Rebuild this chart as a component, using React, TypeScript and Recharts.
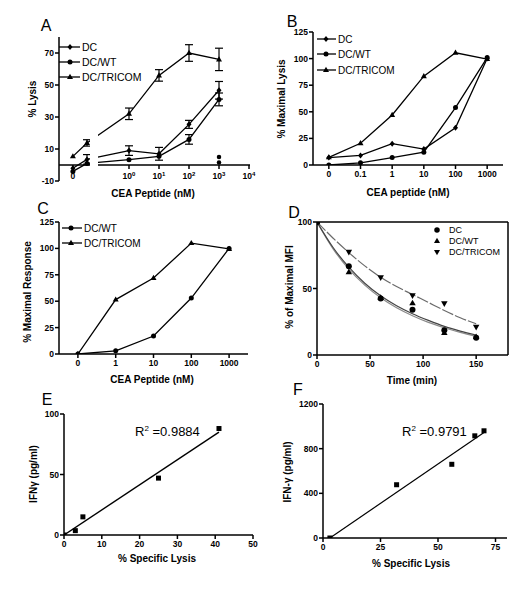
import React from 'react';
import { ComposedChart, Line, Scatter, XAxis, YAxis, ErrorBar, ReferenceLine } from 'recharts';

const FONT = '"Liberation Sans", Arial, Helvetica, sans-serif';

// ---- A: % lysis vs CEA peptide (broken log axis)
const aDoses = ['0', '0.1', '1', '10', '100', '1000'];
const aAxisPos = [-1.87, -1.4, 0, 1, 2, 3];
const aDC = [-2, 3.5, 9, 7, 25.4, 46.7];
const aDCErr = [0, 3, 3, 4, 2.5, 5.5];
const aWT = [-4, 1, 3.3, 5.4, 16, 41];
const aWTErr = [0, 0, 0, 0, 3, 4];
const aTRI = [5.4, 13.8, 32, 56, 70, 66];
const aTRIErr = [0, 2, 3.6, 3.6, 5.2, 7];
const aCtrlPos = [3, 3];
const aCtrl = [5, 1.5];
const aTickPos = [-1.87, 0, 1, 2, 3, 4];
const aTickLabels = ['0', '10^0', '10^1', '10^2', '10^3', '10^4'];

// ---- B: % maximal lysis
const bDoses = ['0', '0.1', '1', '10', '100', '1000'];
const bDC = [7, 9, 20, 15, 35, 100];
const bWT = [0, 2, 7, 12, 54, 101];
const bTRI = [7.2, 20.4, 47, 83.5, 105.5, 99.6];

// ---- C: % maximal response
const cDoses = ['0', '1', '10', '100', '1000'];
const cWT = [0, 3, 17, 53, 100];
const cTRI = [0, 51.5, 72, 105, 99.5];

// ---- D: % of maximal MFI over time
const dTime = [0, 30, 60, 90, 120, 150];
const dDC = [100, 66.8, 42.5, 34, 18.6, 13];
const dWT = [100, 62.3, 43, 39, 16.6, 13.6];
const dTRI = [100, 77.4, 58.3, 44.7, 38.7, 21];
const dFitTime = [0, 15, 30, 45, 60, 75, 90, 105, 120, 135, 150];
const dFitDC = [100, 81, 66, 54, 44.5, 37, 31, 26, 21.5, 18, 15];
const dFitWT = [100, 80, 64.5, 52.5, 43, 35.5, 29.5, 24.5, 20.5, 17, 14];
const dFitTRI = [100, 88, 77, 67, 58.5, 51.5, 45.5, 39.5, 33.5, 28, 23.5];

// ---- E / F: IFN-gamma vs specific lysis
const eLysis = [0, 3, 5, 25, 41];
const eIFN = [0, 3.6, 15, 47, 88];
const eFitLysis = [0, 41];
const eFitIFN = [0, 85];
const fLysis = [3, 32, 56, 66, 70];
const fIFN = [0, 477, 660, 915, 960];
const fFitLysis = [3, 70];
const fFitIFN = [0, 945];

const YW = 40;
const MT = 8;
const MR = 12;
const XH = 26;

const axisLine = { stroke: '#000', strokeWidth: 1.5 };
const tickStyle = { fontFamily: FONT, fontSize: 8.5, fontWeight: 'bold', fill: '#000' };

const Marker = ({ kind, cx, cy, s = 5 }: any) => {
  if (cx == null || cy == null) return null;
  const h = s / 2;
  if (kind === 'diamond')
    return <polygon points={`${cx},${cy - h - 0.5} ${cx + h},${cy} ${cx},${cy + h + 0.5} ${cx - h},${cy}`} fill="#000" />;
  if (kind === 'circle') return <circle cx={cx} cy={cy} r={h} fill="#000" />;
  if (kind === 'tri')
    return <polygon points={`${cx},${cy - h - 0.7} ${cx + h + 0.5},${cy + h * 0.8} ${cx - h - 0.5},${cy + h * 0.8}`} fill="#000" />;
  if (kind === 'triDown')
    return <polygon points={`${cx},${cy + h + 0.7} ${cx + h + 0.5},${cy - h * 0.8} ${cx - h - 0.5},${cy - h * 0.8}`} fill="#000" />;
  return <rect x={cx - h} y={cy - h} width={s} height={s} fill="#000" />;
};

const dotOf = (kind: string, s = 5) => (p: any) => (
  <Marker key={`${kind}-${p.index}`} kind={kind} cx={p.cx} cy={p.cy} s={s} />
);

const Panel = ({ rect, data, children }: any) => (
  <div style={{ position: 'absolute', left: rect.x0 - YW, top: rect.y0 - MT }}>
    <ComposedChart
      width={rect.x1 - rect.x0 + YW + MR}
      height={rect.y1 - rect.y0 + MT + XH}
      data={data}
      margin={{ top: MT, right: MR, bottom: 0, left: 0 }}
    >
      {children}
    </ComposedChart>
  </div>
);

const A_RECT = { x0: 59, y0: 37, x1: 250, y1: 181 };
const B_RECT = { x0: 313, y0: 32, x1: 503, y1: 165 };
const C_RECT = { x0: 59, y0: 222, x1: 248, y1: 354 };
const D_RECT = { x0: 317, y0: 222, x1: 508, y1: 355 };
const E_RECT = { x0: 64, y0: 414, x1: 253, y1: 535 };
const F_RECT = { x0: 323, y0: 404, x1: 507, y1: 538 };

const A_ZERO_OFF = ((A_RECT.y1 - A_RECT.y0) * 10) / 90;

const ATick = ({ x, y, payload }: any) => {
  const i = aTickPos.indexOf(payload.value);
  const [base, exp] = (aTickLabels[i] || '').split('^');
  return (
    <g>
      <line x1={x} x2={x} y1={y - A_ZERO_OFF} y2={y - A_ZERO_OFF + 4} stroke="#000" strokeWidth={1.5} />
      <text x={x} y={y - 2} textAnchor="middle" {...tickStyle}>
        {base}
        {exp != null && (
          <tspan dy={-3.5} fontSize={6}>
            {exp}
          </tspan>
        )}
      </text>
    </g>
  );
};

const yAxisProps = {
  type: 'number' as const,
  width: YW,
  axisLine,
  tickLine: axisLine,
  tick: tickStyle,
  tickSize: 4,
  tickMargin: 1,
  interval: 0 as const,
  allowDataOverflow: true,
};

const xAxisProps = {
  type: 'number' as const,
  height: XH,
  axisLine,
  tickLine: axisLine,
  tick: tickStyle,
  tickSize: 4,
  tickMargin: 2,
  interval: 0 as const,
  allowDataOverflow: true,
};

const lineProps = {
  type: 'linear' as const,
  stroke: '#000',
  strokeWidth: 1.3,
  isAnimationActive: false,
  activeDot: false,
};

const LegendRow = ({ x1, x2, mx, lx, y, kind, label, size, s = 5 }: any) => (
  <g>
    {x1 != null && <line x1={x1} x2={x2} y1={y} y2={y} stroke="#000" strokeWidth={1.3} />}
    <Marker kind={kind} cx={mx} cy={y} s={s} />
    <text x={lx} y={y} dominantBaseline="central" fontSize={size} fontFamily={FONT} fill="#000">
      {label}
    </text>
  </g>
);

const Letter = ({ x, y, t }: any) => (
  <text x={x} y={y} textAnchor="middle" dominantBaseline="central" fontSize={16} fontFamily={FONT} fill="#000">
    {t}
  </text>
);

const XLabel = ({ x, y, t }: any) => (
  <text x={x} y={y} textAnchor="middle" dominantBaseline="central" fontSize={10} fontWeight="bold" fontFamily={FONT} fill="#000">
    {t}
  </text>
);

const YLabel = ({ x, y, t }: any) => (
  <text
    transform={`translate(${x},${y}) rotate(-90)`}
    textAnchor="middle"
    dominantBaseline="central"
    fontSize={10}
    fontWeight="bold"
    fontFamily={FONT}
    fill="#000"
  >
    {t}
  </text>
);

const RSquared = ({ x, y, v }: any) => (
  <text x={x} y={y} fontSize={13} fontFamily={FONT} fill="#000">
    R
    <tspan dy={-5} fontSize={8}>
      2
    </tspan>
    <tspan dy={5}> ={v}</tspan>
  </text>
);

export default function App() {
  const aRows = aDoses.map((d, i) => ({
    dose: d,
    pos: aAxisPos[i],
    dc: aDC[i],
    dcErr: aDCErr[i],
    wt: aWT[i],
    wtErr: aWTErr[i],
    tri: aTRI[i],
    triErr: aTRIErr[i],
  }));
  const aCtrlRows = aCtrl.map((v, i) => ({ pos: aCtrlPos[i], ctrl: v }));
  const bRows = bDoses.map((d, i) => ({ idx: i, dose: d, dc: bDC[i], wt: bWT[i], tri: bTRI[i] }));
  const cRows = cDoses.map((d, i) => ({ idx: i, dose: d, wt: cWT[i], tri: cTRI[i] }));
  const dPts = (vals: number[]) => dTime.map((t, i) => ({ t, v: vals[i] }));
  const dFit = (vals: number[]) => dFitTime.map((t, i) => ({ t, v: vals[i] }));
  const ePts = eLysis.map((x, i) => ({ x, y: eIFN[i] }));
  const eFit = eFitLysis.map((x, i) => ({ x, y: eFitIFN[i] }));
  const fPts = fLysis.map((x, i) => ({ x, y: fIFN[i] }));
  const fFit = fFitLysis.map((x, i) => ({ x, y: fFitIFN[i] }));

  return (
    <div style={{ position: 'absolute', left: 0, top: 0, width: 528, height: 591, background: '#fff', overflow: 'hidden' }}>
      {/* A */}
      <Panel rect={A_RECT} data={aRows}>
        <XAxis
          dataKey="pos"
          type="number"
          domain={[-2.333, 4.033]}
          ticks={aTickPos}
          tick={<ATick />}
          tickSize={0}
          tickMargin={0}
          axisLine={false}
          tickLine={false}
          height={XH}
          interval={0}
          allowDataOverflow
        />
        <YAxis {...yAxisProps} domain={[-10, 80]} ticks={[-10, 10, 30, 50, 70]} />
        <ReferenceLine y={0} stroke="#000" strokeWidth={1.5} />
        <Line {...lineProps} dataKey="tri" dot={dotOf('tri')}>
          <ErrorBar dataKey="triErr" width={4} stroke="#000" strokeWidth={1.2} />
        </Line>
        <Line {...lineProps} dataKey="dc" dot={dotOf('diamond')}>
          <ErrorBar dataKey="dcErr" width={4} stroke="#000" strokeWidth={1.2} />
        </Line>
        <Line {...lineProps} dataKey="wt" dot={dotOf('circle')}>
          <ErrorBar dataKey="wtErr" width={4} stroke="#000" strokeWidth={1.2} />
        </Line>
        <Scatter data={aCtrlRows} dataKey="ctrl" isAnimationActive={false} shape={(p: any) => <Marker kind="circle" cx={p.cx} cy={p.cy} s={4.5} />} />
      </Panel>
      {/* broken-axis gap */}
      <div style={{ position: 'absolute', left: 90, top: 30, width: 8, height: 137, background: '#fff' }} />

      {/* B */}
      <Panel rect={B_RECT} data={bRows}>
        <XAxis
          {...xAxisProps}
          dataKey="idx"
          domain={[-0.5, 5.5]}
          ticks={[0, 1, 2, 3, 4, 5]}
          tickFormatter={(v: number) => bDoses[v]}
        />
        <YAxis {...yAxisProps} domain={[0, 125]} ticks={[0, 25, 50, 75, 100, 125]} />
        <Line {...lineProps} dataKey="tri" dot={dotOf('tri')} />
        <Line {...lineProps} dataKey="dc" dot={dotOf('diamond')} />
        <Line {...lineProps} dataKey="wt" dot={dotOf('circle')} />
      </Panel>

      {/* C */}
      <Panel rect={C_RECT} data={cRows}>
        <XAxis
          {...xAxisProps}
          dataKey="idx"
          domain={[-0.5, 4.5]}
          ticks={[0, 1, 2, 3, 4]}
          tickFormatter={(v: number) => cDoses[v]}
        />
        <YAxis {...yAxisProps} domain={[0, 125]} ticks={[0, 25, 50, 75, 100, 125]} />
        <Line {...lineProps} dataKey="tri" dot={dotOf('tri')} />
        <Line {...lineProps} dataKey="wt" dot={dotOf('circle')} />
      </Panel>

      {/* D */}
      <Panel rect={D_RECT}>
        <XAxis {...xAxisProps} dataKey="t" domain={[0, 180]} ticks={[0, 50, 100, 150]} />
        <YAxis {...yAxisProps} domain={[0, 100]} ticks={[0, 50, 100]} />
        <ReferenceLine y={100} stroke="#000" strokeWidth={1.5} />
        <ReferenceLine x={180} stroke="#000" strokeWidth={1.5} />
        <Line {...lineProps} type="monotone" data={dFit(dFitTRI)} dataKey="v" stroke="#6a6a6a" strokeWidth={1.2} strokeDasharray="12 2" dot={false} />
        <Line {...lineProps} type="monotone" data={dFit(dFitWT)} dataKey="v" stroke="#8a8a8a" strokeWidth={1.2} dot={false} />
        <Line {...lineProps} type="monotone" data={dFit(dFitDC)} dataKey="v" stroke="#444" strokeWidth={1.2} dot={false} />
        <Scatter data={dPts(dDC)} dataKey="v" isAnimationActive={false} shape={(p: any) => <Marker kind="circle" cx={p.cx} cy={p.cy} s={6} />} />
        <Scatter data={dPts(dWT)} dataKey="v" isAnimationActive={false} shape={(p: any) => <Marker kind="tri" cx={p.cx} cy={p.cy} s={5.5} />} />
        <Scatter data={dPts(dTRI)} dataKey="v" isAnimationActive={false} shape={(p: any) => <Marker kind="triDown" cx={p.cx} cy={p.cy} s={5.5} />} />
      </Panel>

      {/* E */}
      <Panel rect={E_RECT}>
        <XAxis {...xAxisProps} dataKey="x" domain={[0, 50]} ticks={[0, 10, 20, 30, 40, 50]} />
        <YAxis {...yAxisProps} domain={[0, 100]} ticks={[0, 50, 100]} />
        <Line {...lineProps} data={eFit} dataKey="y" dot={false} strokeWidth={1.4} />
        <Scatter data={ePts} dataKey="y" isAnimationActive={false} shape={(p: any) => <Marker kind="square" cx={p.cx} cy={p.cy} s={5} />} />
      </Panel>

      {/* F */}
      <Panel rect={F_RECT}>
        <XAxis {...xAxisProps} dataKey="x" domain={[0, 80]} ticks={[0, 25, 50, 75]} />
        <YAxis {...yAxisProps} domain={[0, 1200]} ticks={[0, 400, 800, 1200]} />
        <Line {...lineProps} data={fFit} dataKey="y" dot={false} strokeWidth={1.2} />
        <Scatter data={fPts} dataKey="y" isAnimationActive={false} shape={(p: any) => <Marker kind="square" cx={p.cx} cy={p.cy} s={5} />} />
      </Panel>

      <svg width={528} height={591} style={{ position: 'absolute', left: 0, top: 0, pointerEvents: 'none' }}>
        <Letter x={46} y={25} t="A" />
        <Letter x={292} y={21} t="B" />
        <Letter x={43} y={208} t="C" />
        <Letter x={294} y={212} t="D" />
        <Letter x={47} y={399} t="E" />
        <Letter x={298} y={389} t="F" />

        <YLabel x={32} y={99} t="% Lysis" />
        <XLabel x={153} y={193} t="CEA Peptide (nM)" />
        <YLabel x={281} y={99} t="% Maximal Lysis" />
        <XLabel x={408} y={192} t="CEA peptide (nM)" />
        <YLabel x={27} y={292} t="% Maximal Response" />
        <XLabel x={152} y={379} t="CEA Peptide (nM)" />
        <YLabel x={289} y={287} t="% of Maximal MFI" />
        <XLabel x={412} y={380} t="Time (min)" />
        <YLabel x={33} y={474} t="IFNγ (pg/ml)" />
        <XLabel x={157} y={558} t="% Specific Lysis" />
        <YLabel x={287} y={472} t="IFN-γ (pg/ml)" />
        <XLabel x={411} y={563} t="% Specific Lysis" />

        <LegendRow x1={59} x2={80} mx={70} lx={82} y={47} kind="diamond" label="DC" size={10.5} />
        <LegendRow x1={59} x2={80} mx={70} lx={82} y={62} kind="circle" label="DC/WT" size={10.5} />
        <LegendRow x1={59} x2={80} mx={70} lx={82} y={77} kind="tri" label="DC/TRICOM" size={10.5} />

        <LegendRow x1={317} x2={336} mx={326} lx={338} y={39} kind="diamond" label="DC" size={10} />
        <LegendRow x1={317} x2={336} mx={326} lx={338} y={54} kind="circle" label="DC/WT" size={10} />
        <LegendRow x1={317} x2={336} mx={326} lx={338} y={70} kind="tri" label="DC/TRICOM" size={10} />

        <LegendRow x1={62} x2={82} mx={71} lx={84} y={228} kind="circle" label="DC/WT" size={10} />
        <LegendRow x1={62} x2={82} mx={71} lx={84} y={243} kind="tri" label="DC/TRICOM" size={10} />

        <LegendRow mx={437} lx={449} y={230} kind="circle" label="DC" size={9} s={5.5} />
        <LegendRow mx={437} lx={449} y={241} kind="tri" label="DC/WT" size={9} s={5} />
        <LegendRow mx={437} lx={449} y={252} kind="triDown" label="DC/TRICOM" size={9} s={5} />

        <RSquared x={135} y={436} v="0.9884" />
        <RSquared x={402} y={436} v="0.9791" />
      </svg>
    </div>
  );
}
